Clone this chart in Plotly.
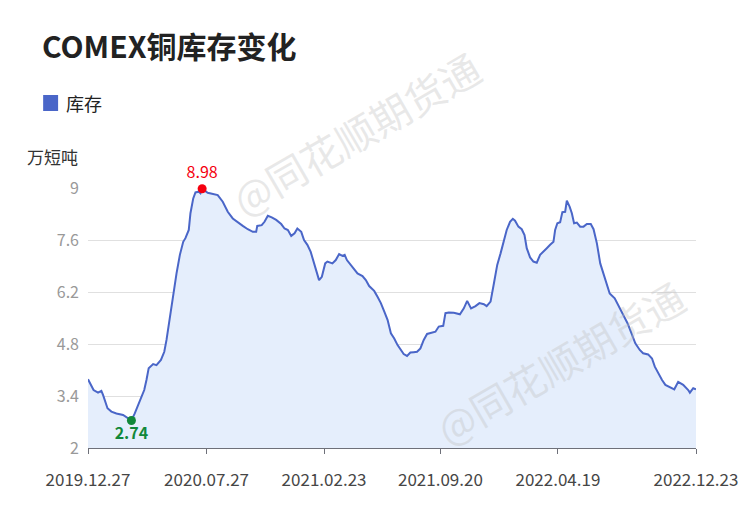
import plotly.graph_objects as go

dates = [
    "2019-12-27", "2020-01-06", "2020-01-14", "2020-01-20", "2020-01-23", "2020-01-27", "2020-01-31",
    "2020-02-07", "2020-02-16", "2020-02-28", "2020-03-07", "2020-03-14", "2020-03-20", "2020-03-29",
    "2020-04-06", "2020-04-10", "2020-04-14", "2020-04-22", "2020-04-28", "2020-05-06", "2020-05-12",
    "2020-05-16", "2020-05-22", "2020-05-28", "2020-06-03", "2020-06-09", "2020-06-15", "2020-06-19",
    "2020-06-25", "2020-06-28", "2020-07-03", "2020-07-07", "2020-07-13", "2020-07-16", "2020-07-19",
    "2020-07-29", "2020-08-07", "2020-08-16", "2020-08-25", "2020-09-03", "2020-09-12", "2020-09-21",
    "2020-09-30", "2020-10-09", "2020-10-18", "2020-10-24", "2020-10-26", "2020-11-03", "2020-11-08",
    "2020-11-14", "2020-11-21", "2020-11-29", "2020-12-08", "2020-12-14", "2020-12-20", "2020-12-26",
    "2021-01-01", "2021-01-06", "2021-01-13", "2021-01-18", "2021-01-24", "2021-01-30", "2021-02-04",
    "2021-02-08", "2021-02-14", "2021-02-19", "2021-02-25", "2021-03-01", "2021-03-10", "2021-03-16",
    "2021-03-22", "2021-03-28", "2021-04-01", "2021-04-05", "2021-04-12", "2021-04-18", "2021-04-24",
    "2021-05-03", "2021-05-09", "2021-05-15", "2021-05-24", "2021-05-30", "2021-06-05", "2021-06-11",
    "2021-06-17", "2021-06-23", "2021-06-29", "2021-07-05", "2021-07-11", "2021-07-16", "2021-07-22",
    "2021-07-28", "2021-08-03", "2021-08-09", "2021-08-15", "2021-08-21", "2021-08-27", "2021-09-05",
    "2021-09-11", "2021-09-17", "2021-09-25", "2021-09-29", "2021-10-05", "2021-10-14", "2021-10-25",
    "2021-11-01", "2021-11-07", "2021-11-14", "2021-11-22", "2021-11-29", "2021-12-07", "2021-12-12",
    "2021-12-19", "2021-12-25", "2021-12-31", "2022-01-06", "2022-01-12", "2022-01-17", "2022-01-23",
    "2022-01-28", "2022-02-01", "2022-02-07", "2022-02-13", "2022-02-18", "2022-02-22", "2022-02-28",
    "2022-03-06", "2022-03-12", "2022-03-18", "2022-03-24", "2022-03-30", "2022-04-05", "2022-04-11",
    "2022-04-14", "2022-04-18", "2022-04-23", "2022-04-27", "2022-05-02", "2022-05-05", "2022-05-10",
    "2022-05-14", "2022-05-18", "2022-05-23", "2022-05-29", "2022-06-04", "2022-06-10", "2022-06-17",
    "2022-06-22", "2022-06-28", "2022-07-04", "2022-07-10", "2022-07-16", "2022-07-21", "2022-07-30",
    "2022-08-05", "2022-08-14", "2022-08-22", "2022-08-29", "2022-09-05", "2022-09-13", "2022-09-19",
    "2022-09-28", "2022-10-05", "2022-10-10", "2022-10-16", "2022-10-23", "2022-10-29", "2022-11-09",
    "2022-11-14", "2022-11-21", "2022-11-30", "2022-12-09", "2022-12-12", "2022-12-18", "2022-12-23",
]

stock = [
    3.85, 3.56, 3.49, 3.54, 3.43, 3.25, 3.07,
    2.98, 2.93, 2.89, 2.82, 2.74, 2.93, 3.25,
    3.56, 3.83, 4.15, 4.26, 4.23, 4.37, 4.59,
    4.91, 5.53, 6.16, 6.70, 7.20, 7.55, 7.65,
    7.87, 8.32, 8.72, 8.88, 8.90, 8.86, 8.98,
    8.87, 8.85, 8.81, 8.63, 8.36, 8.18, 8.07,
    7.98, 7.89, 7.82, 7.82, 7.98, 8.00, 8.09,
    8.25, 8.21, 8.14, 8.03, 7.91, 7.87, 7.71,
    7.78, 7.91, 7.82, 7.60, 7.47, 7.28, 7.02,
    6.84, 6.52, 6.61, 6.97, 7.02, 6.97, 7.06,
    7.22, 7.17, 7.20, 7.06, 6.93, 6.84, 6.70,
    6.63, 6.52, 6.36, 6.23, 6.07, 5.90, 5.68,
    5.45, 5.09, 4.95, 4.77, 4.64, 4.53, 4.48,
    4.57, 4.58, 4.59, 4.68, 4.91, 5.07, 5.10,
    5.13, 5.27, 5.29, 5.63, 5.65, 5.64, 5.60,
    5.76, 5.96, 5.76, 5.82, 5.90, 5.87, 5.82,
    5.94, 6.43, 6.93, 7.24, 7.60, 7.87, 8.09,
    8.17, 8.12, 7.96, 7.89, 7.73, 7.38, 7.13,
    7.02, 6.99, 7.20, 7.30, 7.38, 7.47, 7.55,
    7.87, 8.05, 8.08, 8.35, 8.36, 8.66, 8.50,
    8.32, 8.05, 8.07, 7.96, 7.96, 8.03, 8.03,
    7.89, 7.51, 6.97, 6.70, 6.43, 6.16, 6.03,
    5.85, 5.58, 5.36, 5.09, 4.82, 4.64, 4.55,
    4.52, 4.41, 4.19, 4.01, 3.83, 3.70, 3.61,
    3.58, 3.78, 3.70, 3.56, 3.49, 3.61, 3.58,
]

tick_dates = ["2019-12-27", "2020-07-27", "2021-02-23", "2021-09-20", "2022-04-19", "2022-12-23"]
tick_labels = ["2019.12.27", "2020.07.27", "2021.02.23", "2021.09.20", "2022.04.19", "2022.12.23"]
y_ticks = [2, 3.4, 4.8, 6.2, 7.6, 9]
y_tick_labels = ["2", "3.4", "4.8", "6.2", "7.6", "9"]

title = "COMEX铜库存变化"
series_name = "库存"
unit = "万短吨"
watermark = "@同花顺期货通"

FONT = "Noto Sans CJK SC"
LINE = "#4a66c8"
FILL = "#e5eefc"

# page is rendered with an 8px body margin; figure sized to fit the window
W, H = 742, 502
L, T, PW, PH = 80, 180, 610, 260


def px(x):  # page x -> paper x
    return (x - 8 - L) / PW


def py(y):  # page y -> paper y
    return (T + PH - (y - 8)) / PH


imax = stock.index(max(stock))
imin = stock.index(min(stock))

fig = go.Figure()
fig.add_trace(go.Scatter(
    x=dates, y=stock, mode="lines", line=dict(color=LINE, width=2),
    fill="tozeroy", fillcolor=FILL, showlegend=False, name=series_name,
))
fig.add_trace(go.Scatter(
    x=[dates[imax]], y=[stock[imax]], mode="markers+text",
    marker=dict(color="#f5000f", size=9), text=[f"{stock[imax]:.2f}"],
    textposition="top center", textfont=dict(color="#f5000f", size=16, family=FONT),
    showlegend=False, cliponaxis=False,
))
fig.add_trace(go.Scatter(
    x=[dates[imin]], y=[stock[imin]], mode="markers+text",
    marker=dict(color="#12883a", size=9), text=[f"<b>{stock[imin]:.2f}</b>"],
    textposition="bottom center", textfont=dict(color="#12883a", size=16, family=FONT),
    showlegend=False, cliponaxis=False,
))

fig.update_layout(
    width=W, height=H,
    margin=dict(l=L, r=W - L - PW, t=T, b=H - T - PH),
    paper_bgcolor="white", plot_bgcolor="white",
    font=dict(family=FONT),
    showlegend=False,
    title=dict(text=f"<b>{title}</b>", xref="container", x=(42 - 8) / W, xanchor="left",
               yref="container", y=1 - (47 - 8) / H, yanchor="middle",
               font=dict(size=30, color="#222222", family=FONT)),
    xaxis=dict(
        type="date", range=["2019-12-27", "2022-12-23"],
        tickvals=tick_dates, ticktext=tick_labels,
        showgrid=False, showline=True, linecolor="#6e7079", linewidth=1,
        ticks="outside", ticklen=5, tickcolor="#6e7079",
        tickfont=dict(size=17, color="#464646", family=FONT),
        ticklabelstandoff=12, zeroline=False,
    ),
    yaxis=dict(
        range=[2, 9], tickvals=y_ticks, ticktext=y_tick_labels,
        showgrid=True, gridcolor="#e0e0e0", gridwidth=1,
        showline=False, zeroline=False, ticks="",
        tickfont=dict(size=16, color="#999999", family=FONT),
        ticklabelstandoff=8,
    ),
    hovermode=False,
)

# legend swatch and label
fig.add_shape(type="rect", xref="paper", yref="paper",
              x0=px(43), x1=px(58), y0=py(111), y1=py(95),
              fillcolor=LINE, line=dict(width=0))
fig.add_annotation(text=series_name, xref="paper", yref="paper",
                   x=px(64), y=py(103), xanchor="left", yanchor="middle",
                   showarrow=False, font=dict(size=18, color="#222222", family=FONT))

fig.add_annotation(text=unit, xref="paper", yref="paper",
                   x=px(25), y=py(156), xanchor="left", yanchor="middle",
                   showarrow=False, font=dict(size=17, color="#333333", family=FONT))

for cx, cy in [(357, 133), (562, 362)]:
    fig.add_annotation(text=watermark, xref="paper", yref="paper",
                       x=px(cx), y=py(cy),
                       xanchor="center", yanchor="middle", textangle=-30,
                       showarrow=False,
                       font=dict(size=40, color="rgba(190,190,190,0.35)", family=FONT))

fig.write_html("out.html")
